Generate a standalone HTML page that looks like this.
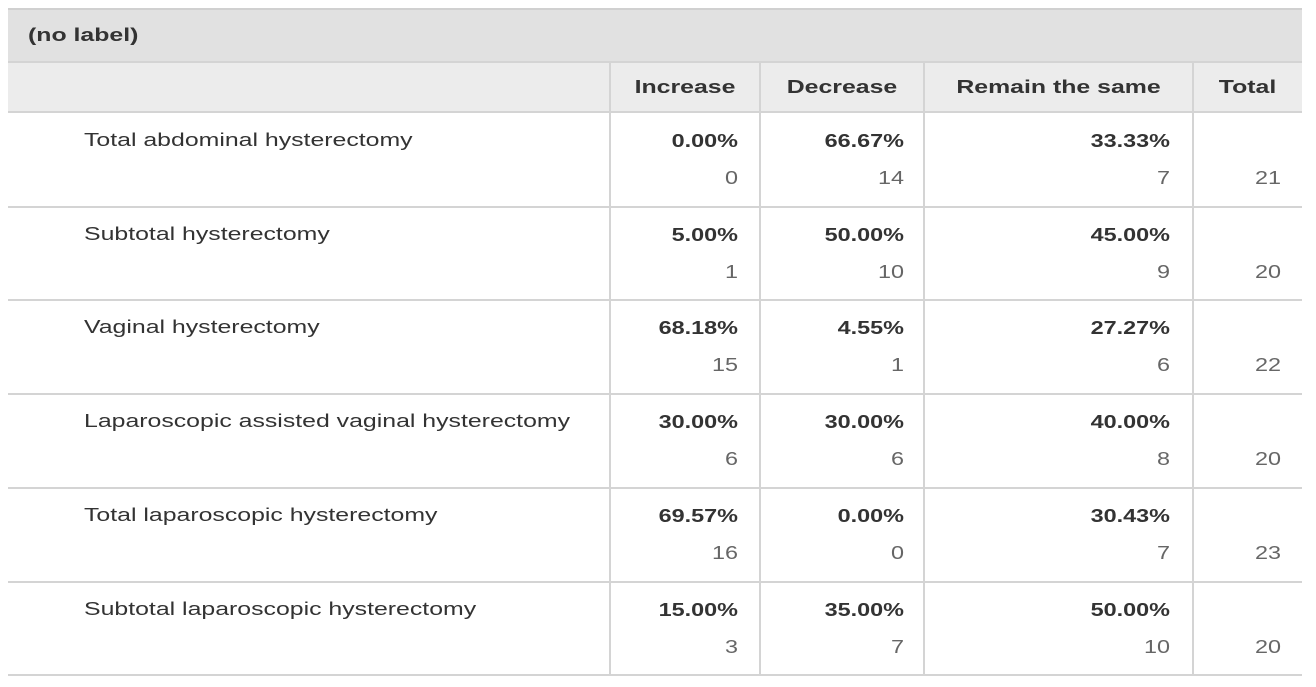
<!DOCTYPE html>
<html><head><meta charset="utf-8">
<style>
body{margin:0;width:1316px;height:687px;background:#fff;font-family:"Liberation Sans",Arial,sans-serif;overflow:hidden;position:relative}
.abs{position:absolute}
#title{left:8px;top:8px;width:1294px;height:53px;background:#e1e1e1;border-top:2px solid #d0d0d0;box-sizing:border-box}
#ttxt{left:28px;top:8px;height:53px;line-height:54px;font-weight:bold;font-size:18px;color:#333;transform:scaleX(1.38);transform-origin:left center}
#hdr{left:8px;top:61px;width:1294px;height:52px;background:#ececec;border-top:2px solid #d4d4d4;border-bottom:2px solid #d4d4d4;box-sizing:border-box}
.hc{top:61px;height:52px;line-height:52px;text-align:center;font-weight:bold;font-size:18px;color:#333;transform:scaleX(1.38);transform-origin:center}
.vl{width:2px;background:#d4d4d4}
.hl{left:8px;width:1294px;height:2px;background:#d4d4d4}
.lab{font-size:18px;color:#333;transform:scaleX(1.38);transform-origin:left center;white-space:nowrap}
.pct{font-size:18px;font-weight:bold;color:#333;text-align:right;transform:scaleX(1.3);transform-origin:right center}
.cnt{font-size:18px;color:#666;text-align:right;transform:scaleX(1.3);transform-origin:right center}
</style></head><body>
<div id="title" class="abs"></div>
<div id="ttxt" class="abs">(no label)</div>
<div id="hdr" class="abs"></div>
<div class="abs hc" style="left:610px;width:150px">Increase</div>
<div class="abs hc" style="left:760px;width:164px">Decrease</div>
<div class="abs hc" style="left:924px;width:269px">Remain the same</div>
<div class="abs hc" style="left:1193px;width:109px">Total</div>
<script>
const labels=["Total abdominal hysterectomy","Subtotal hysterectomy","Vaginal hysterectomy","Laparoscopic assisted vaginal hysterectomy","Total laparoscopic hysterectomy","Subtotal laparoscopic hysterectomy"];
const incPct=["0.00%","5.00%","68.18%","30.00%","69.57%","15.00%"];
const incN=[0,1,15,6,16,3];
const decPct=["66.67%","50.00%","4.55%","30.00%","0.00%","35.00%"];
const decN=[14,10,1,6,0,7];
const remPct=["33.33%","45.00%","27.27%","40.00%","30.43%","50.00%"];
const remN=[7,9,6,8,7,10];
const totals=[21,20,22,20,23,20];
const top0=113,rowH=93.7;
const colsR=[738,904,1170];
const b=document.body;
function add(cls,style,text,name){const d=document.createElement('div');d.className='abs '+cls;d.setAttribute('style',style);d.textContent=text;


b.appendChild(d);return d;}
[610,760,924,1193].forEach(x=>{add('vl','left:'+(x-1)+'px;top:61px;height:'+(rowH*labels.length+52)+'px','','column-divider');});
labels.forEach((l,i)=>{
 const y=top0+i*rowH;
 add('lab','left:84px;top:'+(y+17)+'px',l,'row-label');
 const p=[incPct[i],decPct[i],remPct[i]],n=[incN[i],decN[i],remN[i]];
 colsR.forEach((r,j)=>{
  add('pct','left:'+(r-100)+'px;width:100px;top:'+(y+18)+'px',p[j],'percent-cell');
  add('cnt','left:'+(r-100)+'px;width:100px;top:'+(y+55)+'px',String(n[j]),'count-cell');
 });
 add('cnt','left:1181px;width:100px;top:'+(y+55)+'px',String(totals[i]),'total-cell');
 add('hl','top:'+(y+rowH-1)+'px','','row-divider');
});
</script>
</body></html>
